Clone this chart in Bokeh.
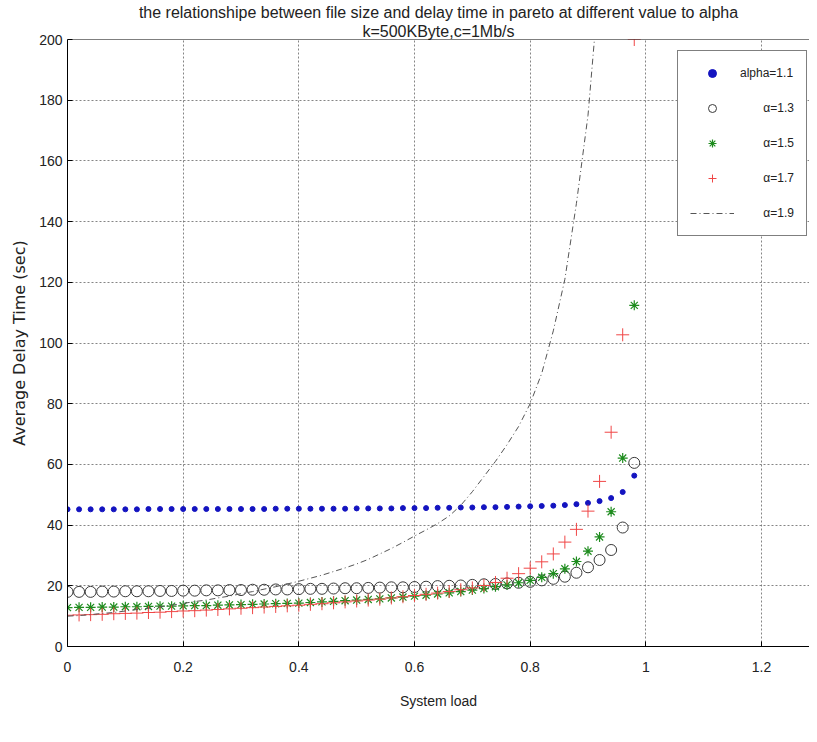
from bokeh.plotting import figure
from bokeh.models import (ColumnDataSource, Legend, LegendItem, Title, Span,
                          FixedTicker, Range1d, NumeralTickFormatter)
from bokeh.embed import file_html
from bokeh.resources import INLINE

# ---------------- data ----------------
system_load = [0.00, 0.02, 0.04, 0.06, 0.08, 0.10, 0.12, 0.14, 0.16, 0.18,
               0.20, 0.22, 0.24, 0.26, 0.28, 0.30, 0.32, 0.34, 0.36, 0.38,
               0.40, 0.42, 0.44, 0.46, 0.48, 0.50, 0.52, 0.54, 0.56, 0.58,
               0.60, 0.62, 0.64, 0.66, 0.68, 0.70, 0.72, 0.74, 0.76, 0.78,
               0.80, 0.82, 0.84, 0.86, 0.88, 0.90, 0.92, 0.94, 0.96, 0.98]

delay_alpha_1_1 = [45.2, 45.2, 45.2, 45.2, 45.2, 45.2, 45.2, 45.3, 45.3, 45.3,
                   45.3, 45.3, 45.3, 45.3, 45.3, 45.3, 45.3, 45.3, 45.4, 45.4,
                   45.4, 45.4, 45.4, 45.4, 45.4, 45.5, 45.5, 45.5, 45.5, 45.6,
                   45.6, 45.6, 45.7, 45.7, 45.8, 45.8, 45.9, 45.9, 46.0, 46.1,
                   46.2, 46.3, 46.4, 46.6, 46.9, 47.3, 47.9, 48.9, 50.9, 56.3]

delay_alpha_1_3 = [18.0, 18.0, 18.0, 18.1, 18.1, 18.2, 18.2, 18.2, 18.3, 18.3,
                   18.4, 18.4, 18.5, 18.5, 18.6, 18.6, 18.7, 18.7, 18.8, 18.8,
                   18.9, 19.0, 19.0, 19.1, 19.2, 19.2, 19.3, 19.4, 19.5, 19.5,
                   19.6, 19.7, 19.9, 20.0, 20.1, 20.3, 20.5, 20.6, 20.8, 21.0,
                   21.3, 21.8, 22.3, 23.0, 24.3, 26.1, 28.5, 31.8, 39.2, 60.5]

delay_alpha_1_5 = [12.8, 12.9, 12.9, 13.0, 13.0, 13.1, 13.1, 13.2, 13.3, 13.3,
                   13.4, 13.5, 13.5, 13.6, 13.7, 13.8, 13.9, 14.0, 14.1, 14.2,
                   14.3, 14.5, 14.7, 14.9, 15.1, 15.3, 15.5, 15.7, 16.0, 16.3,
                   16.6, 16.9, 17.3, 17.7, 18.1, 18.6, 19.1, 19.7, 20.3, 21.0,
                   21.8, 22.8, 24.0, 25.6, 28.0, 31.4, 36.1, 44.4, 62.1, 112.4]

delay_alpha_1_7 = [10.3, 10.4, 10.5, 10.6, 10.8, 10.9, 11.0, 11.2, 11.3, 11.5,
                   11.7, 11.8, 12.0, 12.2, 12.4, 12.6, 12.8, 13.0, 13.2, 13.4,
                   13.6, 13.9, 14.1, 14.4, 14.7, 15.0, 15.3, 15.6, 16.0, 16.4,
                   16.8, 17.2, 17.6, 18.1, 18.7, 19.3, 20.1, 21.1, 22.5, 24.0,
                   25.8, 27.9, 30.5, 34.4, 38.6, 44.6, 54.4, 70.6, 102.7, 200.0]

delay_alpha_1_9 = [10.0, 10.2, 10.5, 10.9, 11.2, 11.7, 12.2, 12.6, 13.1, 13.6,
                   14.2, 14.8, 15.3, 16.0, 16.6, 17.4, 18.1, 18.9, 19.7, 20.6,
                   21.5, 22.5, 23.5, 24.7, 25.9, 27.2, 28.7, 30.5, 32.3, 34.3,
                   36.4, 38.4, 40.5, 43.0, 46.5, 51.0, 56.0, 61.0, 66.5, 72.5,
                   80.0, 90.0, 104.0, 121.0, 146.0, 175.0, 220.0, 290.0, 430.0, 860.0]

series_labels = ["alpha=1.1", "α=1.3", "α=1.5", "α=1.7", "α=1.9"]
x_ticks = [0, 0.2, 0.4, 0.6, 0.8, 1.0, 1.2]
y_ticks = [0, 20, 40, 60, 80, 100, 120, 140, 160, 180, 200]
title_line1 = "the relationshipe between file size and delay time in pareto at different value to alpha"
title_line2 = "k=500KByte,c=1Mb/s"
x_label = "System load"
y_label = "Average Delay Time (sec)"

# ---------------- styling ----------------
FONT = "Liberation Sans"
TXT = "#222222"
BLUE = "#1414c0"
BLACK = "#3a3a3a"
GREEN = "#1e8c1e"
RED = "#f04646"
LINE = "#555555"

src = ColumnDataSource(dict(x=system_load, a11=delay_alpha_1_1, a13=delay_alpha_1_3,
                            a15=delay_alpha_1_5, a17=delay_alpha_1_7, a19=delay_alpha_1_9))

p = figure(width=809, height=726, x_range=Range1d(0, 1.283), y_range=Range1d(0, 200),
           output_backend="svg", toolbar_location=None, title=None,
           min_border_left=67, min_border_right=0, min_border_top=39, min_border_bottom=80)
p.outline_line_color = None
p.background_fill_color = "white"
p.border_fill_color = "white"

# axes
for ax in (p.xaxis, p.yaxis):
    ax.axis_line_color = "black"
    ax.major_tick_line_color = "black"
    ax.major_tick_in = 5
    ax.major_tick_out = 0
    ax.minor_tick_line_color = None
    ax.major_label_text_font = FONT
    ax.major_label_text_font_size = "14px"
    ax.major_label_text_color = TXT
    ax.axis_label_text_font_style = "normal"
    ax.axis_label_text_color = TXT

p.xaxis.ticker = FixedTicker(ticks=x_ticks)
p.xaxis.formatter = NumeralTickFormatter(format="0.[0]")
p.xaxis.major_label_standoff = 15
p.xaxis.axis_label = x_label
p.xaxis.axis_label_text_font = FONT
p.xaxis.axis_label_text_font_size = "14px"
p.xaxis.axis_label_standoff = 18

p.yaxis.ticker = FixedTicker(ticks=y_ticks)
p.yaxis.major_label_standoff = 5
p.yaxis.axis_label = y_label
p.yaxis.axis_label_text_font = "DejaVu Sans"
p.yaxis.axis_label_text_font_size = "16px"
p.yaxis.axis_label_standoff = 7

# top border of the box
p.add_layout(Span(location=200, dimension="width", line_color="black", line_width=1))

# titles (second line closest to the plot)
p.add_layout(Title(text=title_line2, align="center", text_font=FONT, text_font_size="16px",
                   text_font_style="normal", text_color=TXT, standoff=0), "above")
p.add_layout(Title(text=title_line1, align="center", text_font=FONT, text_font_size="16px",
                   text_font_style="normal", text_color=TXT, standoff=0), "above")

# grid
p.xgrid.ticker = FixedTicker(ticks=x_ticks)
p.ygrid.ticker = FixedTicker(ticks=y_ticks)
p.grid.grid_line_color = "#666666"
p.grid.grid_line_dash = "2 2"
p.grid.grid_line_alpha = 0.8

# series
r1 = p.scatter("x", "a11", source=src, marker="circle", size=5, fill_color=BLUE, line_color=BLUE)
r2 = p.scatter("x", "a13", source=src, marker="circle", size=11, fill_color=None,
               line_color=BLACK, line_width=1)
r3 = p.scatter("x", "a15", source=src, marker="asterisk", size=10, line_color=GREEN, line_width=1.2)
r4 = p.scatter("x", "a17", source=src, marker="cross", size=13, line_color=RED, line_width=1)
r5 = p.line("x", "a19", source=src, line_color=LINE, line_width=1, line_dash="6 3 1 3")

pad = "\u00a0" * 7
labels = [series_labels[0]] + [pad + s for s in series_labels[1:]]
legend = Legend(items=[LegendItem(label=lbl, renderers=[r]) for lbl, r in
                       zip(labels, [r1, r2, r3, r4, r5])],
                location=(610, 410), orientation="vertical", padding=12, spacing=15,
                glyph_width=44, glyph_height=20, label_height=20, label_width=50,
                label_standoff=6, border_line_color="black", border_line_width=1,
                background_fill_color="white", background_fill_alpha=1.0,
                label_text_font=FONT, label_text_font_size="12px",
                label_text_color=TXT, margin=0)
p.add_layout(legend)

open("out.html", "w").write(file_html(p, INLINE, title="pareto delay"))
